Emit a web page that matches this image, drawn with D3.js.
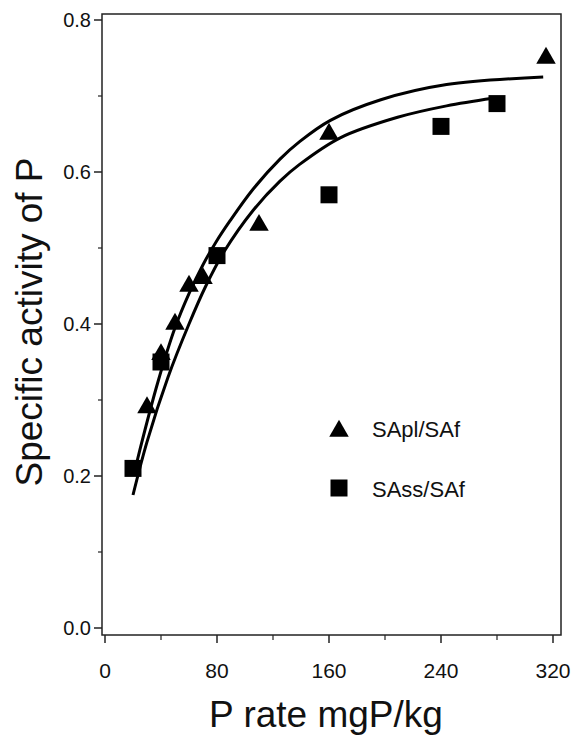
<!DOCTYPE html>
<html>
<head>
<meta charset="utf-8">
<script src="https://cdn.jsdelivr.net/npm/d3@7"></script>
<style>
  body { margin: 0; background: #fff; }
  svg { display: block; }
  text { font-family: "Liberation Sans", Arial, Helvetica, sans-serif; fill: #111; }
</style>
</head>
<body>
<svg id="chart" width="571" height="737"></svg>
<script>
// observed points
var aplX = [30, 40, 50, 60, 70, 110, 160, 315];
var aplY = [0.29, 0.36, 0.40, 0.45, 0.46, 0.53, 0.65, 0.75];
var assX = [20, 40, 80, 160, 240, 280];
var assY = [0.21, 0.35, 0.49, 0.57, 0.66, 0.69];

// fitted curves
var aplFitX = [22, 25, 38, 50, 60, 70, 79, 89, 106, 125, 139, 161, 197, 244, 313];
var aplFitY = [0.212, 0.235, 0.325, 0.395, 0.44, 0.478, 0.507, 0.535, 0.578, 0.617, 0.64, 0.668, 0.695, 0.715, 0.725];
var assFitX = [20, 30, 45, 60, 72, 85, 106, 125, 139, 168, 209, 244, 277];
var assFitY = [0.175, 0.245, 0.33, 0.40, 0.45, 0.495, 0.55, 0.588, 0.61, 0.645, 0.672, 0.687, 0.697];

var xTicks = [0, 80, 160, 240, 320];
var xMinor = [40, 120, 200, 280];
var yTicks = [0, 0.2, 0.4, 0.6, 0.8];
var yMinor = [0.1, 0.3, 0.5, 0.7];

var legendNames = ["SApl/SAf", "SAss/SAf"];

var svg = d3.select("#chart");

// scales
var xScale = d3.scaleLinear().domain([0, 320]).range([105, 553]);
var yScale = d3.scaleLinear().domain([0, 0.8]).range([628, 20]);

// plot box edges
var boxL = 102, boxR = 561, boxT = 14, boxB = 635;

// frame
svg.append("rect")
    .attr("x", boxL).attr("y", boxT)
    .attr("width", boxR - boxL).attr("height", boxB - boxT)
    .attr("fill", "none").attr("stroke", "#222").attr("stroke-width", 1.5);

// x ticks
svg.selectAll(".xt").data(xTicks).join("line")
    .attr("x1", d => xScale(d)).attr("x2", d => xScale(d))
    .attr("y1", boxB).attr("y2", boxB + 8)
    .attr("stroke", "#222").attr("stroke-width", 1.5);
svg.selectAll(".xm").data(xMinor).join("line")
    .attr("x1", d => xScale(d)).attr("x2", d => xScale(d))
    .attr("y1", boxB).attr("y2", boxB + 5)
    .attr("stroke", "#222").attr("stroke-width", 1.2);
svg.selectAll(".xl").data(xTicks).join("text")
    .attr("x", d => xScale(d)).attr("y", 678)
    .attr("text-anchor", "middle").attr("font-size", 21)
    .text(d => d);

// y ticks
svg.selectAll(".yt").data(yTicks).join("line")
    .attr("x1", boxL - 8).attr("x2", boxL)
    .attr("y1", d => yScale(d)).attr("y2", d => yScale(d))
    .attr("stroke", "#222").attr("stroke-width", 1.5);
svg.selectAll(".ym").data(yMinor).join("line")
    .attr("x1", boxL - 4).attr("x2", boxL)
    .attr("y1", d => yScale(d)).attr("y2", d => yScale(d))
    .attr("stroke", "#222").attr("stroke-width", 1.2);
svg.selectAll(".yl").data(yTicks).join("text")
    .attr("x", 91).attr("y", d => yScale(d) + 7)
    .attr("text-anchor", "end").attr("font-size", 20)
    .text(d => d3.format(".1f")(d));

// axis titles
svg.append("text")
    .attr("transform", "translate(42,322) rotate(-90)")
    .attr("text-anchor", "middle").attr("font-size", 37)
    .text("Specific activity of P");
svg.append("text")
    .attr("x", 326).attr("y", 727)
    .attr("text-anchor", "middle").attr("font-size", 37)
    .text("P rate mgP/kg");

// fitted lines
var line = d3.line()
    .x(d => xScale(d[0])).y(d => yScale(d[1]))
    .curve(d3.curveCatmullRom);

svg.append("path")
    .attr("d", line(d3.zip(aplFitX, aplFitY)))
    .attr("fill", "none").attr("stroke", "#000").attr("stroke-width", 3);
svg.append("path")
    .attr("d", line(d3.zip(assFitX, assFitY)))
    .attr("fill", "none").attr("stroke", "#000").attr("stroke-width", 3);

// markers
var tri = d3.symbol().type(d3.symbolTriangle).size(165);
var sq = d3.symbol().type(d3.symbolSquare).size(289);

svg.selectAll(".apl").data(d3.zip(aplX, aplY)).join("path")
    .attr("d", tri)
    .attr("transform", d => "translate(" + xScale(d[0]) + "," + yScale(d[1]) + ")")
    .attr("fill", "#000");
svg.selectAll(".ass").data(d3.zip(assX, assY)).join("path")
    .attr("d", sq)
    .attr("transform", d => "translate(" + xScale(d[0]) + "," + yScale(d[1]) + ")")
    .attr("fill", "#000");

// legend
var legend = svg.append("g");
legend.append("path").attr("d", tri).attr("transform", "translate(339,431)").attr("fill", "#000");
legend.append("path").attr("d", sq).attr("transform", "translate(339,488)").attr("fill", "#000");
legend.selectAll("text").data(legendNames).join("text")
    .attr("x", 372).attr("y", (d, i) => 437 + i * 60)
    .attr("font-size", 22)
    .text(d => d);
</script>
</body>
</html>
